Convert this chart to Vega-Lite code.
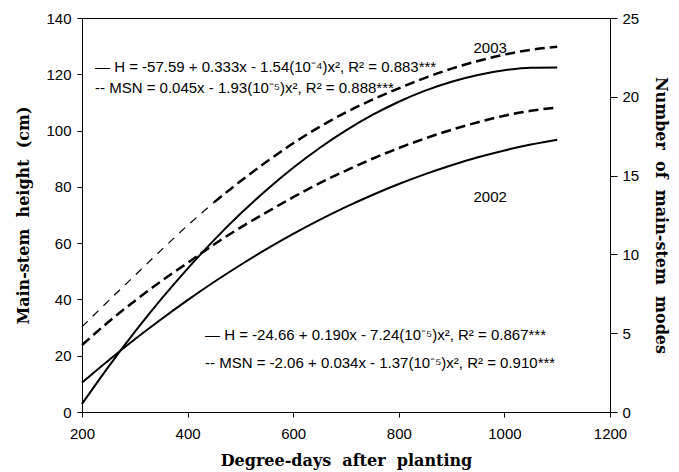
{
  "$schema": "https://vega.github.io/schema/vega-lite/v6.json",
  "width": 528,
  "height": 394,
  "autosize": {"type": "none"},
  "padding": {"left": 82, "top": 18, "right": 69, "bottom": 60},
  "background": "white",
  "config": {
    "view": {"stroke": "black", "strokeWidth": 1},
    "axis": {
      "grid": false,
      "domainColor": "black",
      "domainWidth": 1,
      "tickColor": "black",
      "tickWidth": 1,
      "tickSize": 5,
      "labelColor": "black",
      "labelFont": "Liberation Sans",
      "labelFontSize": 15,
      "titleColor": "black",
      "titleFont": "DejaVu Serif",
      "titleFontSize": 16,
      "titleFontWeight": "bold"
    }
  },
  "datasets": {
    "height": [
      {"d": 200, "v": 2.85, "s": "2003"}, {"d": 250, "v": 16.04, "s": "2003"}, {"d": 300, "v": 28.45, "s": "2003"},
      {"d": 350, "v": 40.10, "s": "2003"}, {"d": 400, "v": 50.97, "s": "2003"}, {"d": 450, "v": 61.08, "s": "2003"},
      {"d": 500, "v": 70.41, "s": "2003"}, {"d": 550, "v": 78.98, "s": "2003"}, {"d": 600, "v": 86.77, "s": "2003"},
      {"d": 650, "v": 93.80, "s": "2003"}, {"d": 700, "v": 100.05, "s": "2003"}, {"d": 750, "v": 105.54, "s": "2003"},
      {"d": 800, "v": 110.25, "s": "2003"}, {"d": 850, "v": 114.20, "s": "2003"}, {"d": 900, "v": 117.37, "s": "2003"},
      {"d": 950, "v": 119.78, "s": "2003"}, {"d": 1000, "v": 121.41, "s": "2003"}, {"d": 1050, "v": 122.28, "s": "2003"},
      {"d": 1100, "v": 122.37, "s": "2003"},
      {"d": 200, "v": 10.44, "s": "2002"}, {"d": 250, "v": 18.32, "s": "2002"}, {"d": 300, "v": 25.82, "s": "2002"},
      {"d": 350, "v": 32.97, "s": "2002"}, {"d": 400, "v": 39.76, "s": "2002"}, {"d": 450, "v": 46.18, "s": "2002"},
      {"d": 500, "v": 52.24, "s": "2002"}, {"d": 550, "v": 57.94, "s": "2002"}, {"d": 600, "v": 63.28, "s": "2002"},
      {"d": 650, "v": 68.25, "s": "2002"}, {"d": 700, "v": 72.86, "s": "2002"}, {"d": 750, "v": 77.12, "s": "2002"},
      {"d": 800, "v": 81.00, "s": "2002"}, {"d": 850, "v": 84.53, "s": "2002"}, {"d": 900, "v": 87.70, "s": "2002"},
      {"d": 950, "v": 90.50, "s": "2002"}, {"d": 1000, "v": 92.94, "s": "2002"}, {"d": 1050, "v": 95.02, "s": "2002"},
      {"d": 1100, "v": 96.74, "s": "2002"}
    ],
    "nodesEarly": [
      {"d": 200, "v": 5.41, "s": "2003"}, {"d": 250, "v": 7.05, "s": "2003"}, {"d": 300, "v": 8.66, "s": "2003"},
      {"d": 350, "v": 10.27, "s": "2003"}, {"d": 400, "v": 11.84, "s": "2003"}, {"d": 450, "v": 13.30, "s": "2003"}
    ],
    "nodes": [
      {"d": 450, "v": 13.30, "s": "2003"}, {"d": 500, "v": 14.64, "s": "2003"}, {"d": 550, "v": 15.89, "s": "2003"},
      {"d": 600, "v": 17.05, "s": "2003"}, {"d": 650, "v": 18.09, "s": "2003"}, {"d": 700, "v": 19.02, "s": "2003"},
      {"d": 750, "v": 19.82, "s": "2003"}, {"d": 800, "v": 20.54, "s": "2003"}, {"d": 850, "v": 21.20, "s": "2003"},
      {"d": 900, "v": 21.79, "s": "2003"}, {"d": 950, "v": 22.27, "s": "2003"}, {"d": 1000, "v": 22.68, "s": "2003"},
      {"d": 1050, "v": 22.98, "s": "2003"}, {"d": 1100, "v": 23.18, "s": "2003"},
      {"d": 200, "v": 4.25, "s": "2002"}, {"d": 250, "v": 5.71, "s": "2002"}, {"d": 300, "v": 7.05, "s": "2002"},
      {"d": 350, "v": 8.30, "s": "2002"}, {"d": 400, "v": 9.46, "s": "2002"}, {"d": 450, "v": 10.63, "s": "2002"},
      {"d": 500, "v": 11.70, "s": "2002"}, {"d": 550, "v": 12.68, "s": "2002"}, {"d": 600, "v": 13.63, "s": "2002"},
      {"d": 650, "v": 14.52, "s": "2002"}, {"d": 700, "v": 15.32, "s": "2002"}, {"d": 750, "v": 16.07, "s": "2002"},
      {"d": 800, "v": 16.75, "s": "2002"}, {"d": 850, "v": 17.36, "s": "2002"}, {"d": 900, "v": 17.91, "s": "2002"},
      {"d": 950, "v": 18.39, "s": "2002"}, {"d": 1000, "v": 18.80, "s": "2002"}, {"d": 1050, "v": 19.11, "s": "2002"},
      {"d": 1100, "v": 19.32, "s": "2002"}
    ],
    "equations": [
      {"d": 224.6, "v": 122.6, "t": "— H = -57.59 + 0.333x - 1.54(10⁻⁴)x², R² = 0.883***"},
      {"d": 224.6, "v": 115.1, "t": "-- MSN = 0.045x - 1.93(10⁻⁵)x², R² = 0.888***"},
      {"d": 433, "v": 27.4, "t": "— H = -24.66 + 0.190x - 7.24(10⁻⁵)x², R² = 0.867***"},
      {"d": 433, "v": 17.4, "t": "-- MSN = -2.06 + 0.034x - 1.37(10⁻⁵)x², R² = 0.910***"}
    ],
    "years": [
      {"d": 973, "v": 129.2, "t": "2003"},
      {"d": 973, "v": 76.4, "t": "2002"}
    ]
  },
  "layer": [
    {
      "data": {"name": "height"},
      "mark": {"type": "line", "color": "black", "strokeWidth": 2, "interpolate": "monotone"},
      "encoding": {
        "x": {
          "field": "d", "type": "quantitative",
          "scale": {"domain": [200, 1200], "nice": false, "zero": false},
          "axis": {"values": [200, 400, 600, 800, 1000, 1200], "format": "d", "title": "Degree-days\u00a0\u00a0after\u00a0\u00a0planting", "labelPadding": 9, "titlePadding": 11, "labelFlush": false}
        },
        "y": {
          "field": "v", "type": "quantitative",
          "scale": {"domain": [0, 140], "nice": false, "zero": true},
          "axis": {"orient": "left", "values": [0, 20, 40, 60, 80, 100, 120, 140], "format": "d", "title": "Main-stem\u00a0\u00a0height\u00a0\u00a0(cm)", "labelPadding": 6, "titlePadding": 14, "labelFlush": false}
        },
        "detail": {"field": "s", "type": "nominal"}
      }
    },
    {
      "data": {"name": "nodes"},
      "mark": {"type": "line", "color": "black", "strokeWidth": 2.5, "strokeDash": [10, 5], "interpolate": "monotone"},
      "encoding": {
        "x": {"field": "d", "type": "quantitative", "scale": {"domain": [200, 1200], "nice": false, "zero": false}},
        "y": {
          "field": "v", "type": "quantitative",
          "scale": {"domain": [0, 25], "nice": false, "zero": true},
          "axis": {"orient": "right", "values": [0, 5, 10, 15, 20, 25], "format": "d", "title": "Number\u00a0\u00a0of\u00a0\u00a0main-stem\u00a0\u00a0modes", "tickSize": 7, "labelPadding": 5, "titlePadding": 14, "labelFlush": false}
        },
        "detail": {"field": "s", "type": "nominal"}
      }
    },
    {
      "data": {"name": "nodesEarly"},
      "mark": {"type": "line", "color": "black", "strokeWidth": 1.2, "strokeDash": [8, 7], "interpolate": "monotone"},
      "encoding": {
        "x": {"field": "d", "type": "quantitative", "scale": {"domain": [200, 1200], "nice": false, "zero": false}},
        "y": {"field": "v", "type": "quantitative", "scale": {"domain": [0, 25], "nice": false, "zero": true}, "axis": null},
        "detail": {"field": "s", "type": "nominal"}
      }
    },
    {
      "data": {"name": "equations"},
      "mark": {"type": "text", "align": "left", "baseline": "middle", "font": "Liberation Sans", "fontSize": 15, "color": "black"},
      "encoding": {
        "x": {"field": "d", "type": "quantitative", "scale": {"domain": [200, 1200], "nice": false, "zero": false}},
        "y": {"field": "v", "type": "quantitative", "scale": {"domain": [0, 140], "nice": false, "zero": true}, "axis": null},
        "text": {"field": "t", "type": "nominal"}
      }
    },
    {
      "data": {"name": "years"},
      "mark": {"type": "text", "align": "center", "baseline": "middle", "font": "Liberation Sans", "fontSize": 15, "color": "black"},
      "encoding": {
        "x": {"field": "d", "type": "quantitative", "scale": {"domain": [200, 1200], "nice": false, "zero": false}},
        "y": {"field": "v", "type": "quantitative", "scale": {"domain": [0, 140], "nice": false, "zero": true}, "axis": null},
        "text": {"field": "t", "type": "nominal"}
      }
    }
  ],
  "resolve": {"scale": {"y": "independent"}}
}
